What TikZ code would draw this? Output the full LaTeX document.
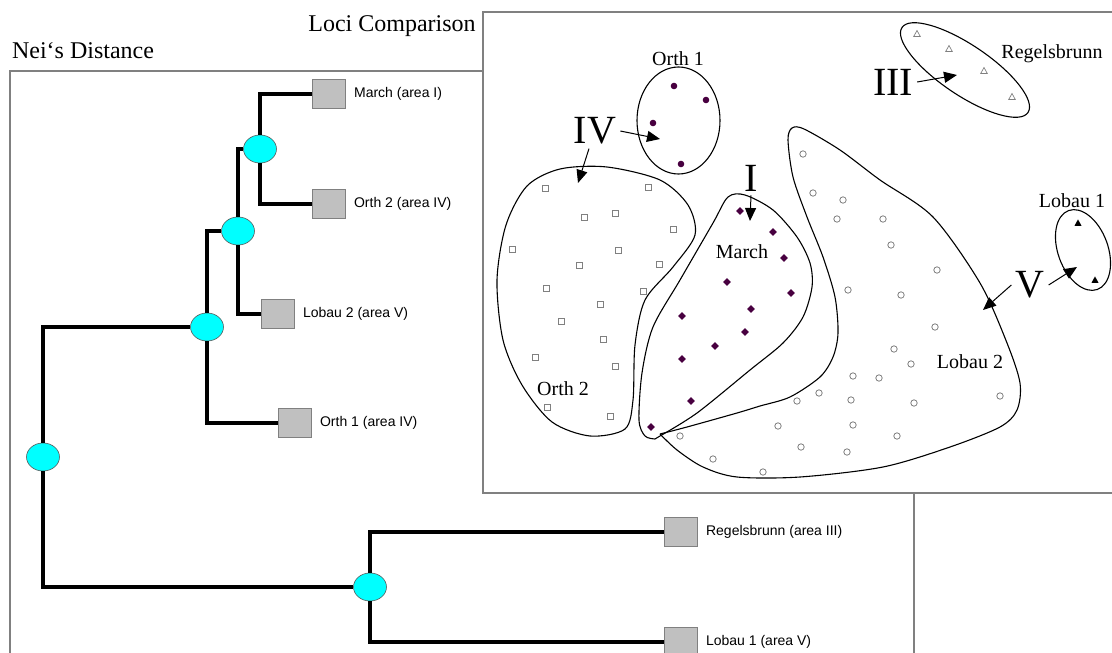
\documentclass[tikz,border=0pt]{standalone}
\usepackage{fontspec}
\setmainfont{Liberation Serif}
\setsansfont{Liberation Sans}
\usetikzlibrary{shapes.geometric,arrows.meta,positioning}
\definecolor{plum}{RGB}{72,0,64}
\definecolor{leafgrey}{RGB}{192,192,192}
\definecolor{framegrey}{RGB}{128,128,128}
\definecolor{knotcyan}{RGB}{0,255,255}
\begin{document}
\begin{tikzpicture}[x=1pt,y=-1pt,>={Triangle[length=13pt,width=11pt]},
    frame/.style={draw=framegrey,line width=1.1pt},
    knot/.style={ellipse,draw=black!65,fill=knotcyan,minimum width=33pt,minimum height=28pt,inner sep=0pt,line width=0.6pt},
    leaf/.style={draw=framegrey,fill=leafgrey,minimum width=33pt,minimum height=29pt,inner sep=0pt,line width=0.8pt},
    branch/.style={line width=4.6pt},
    tag/.style={font=\sffamily\fontsize{14}{16}\selectfont,inner sep=2pt},
    title/.style={font=\fontsize{24}{28}\selectfont,anchor=base,inner sep=0pt},
    group/.style={font=\fontsize{20}{24}\selectfont,anchor=base,inner sep=0pt},
    roman/.style={font=\fontsize{40}{44}\selectfont,inner sep=4pt},
    blob/.style={line width=1.1pt},
    pointer/.style={->,line width=1pt},
    hollow/.style={draw=framegrey,line width=0.8pt}]
    \useasboundingbox (0,0) rectangle (1112,653);
    \node[title] (neiTitle) at (83,58) {Nei‘s Distance};
    \node[title] (lociTitle) at (392,31) {Loci Comparison};
    \draw[frame] (10,653) -- (10,71) -- (483,71);
    \draw[frame] (914,493) -- (914,653);
    \draw[frame] (1112,12) -- (483,12) -- (483,493) -- (1112,493);

    \node[knot] (R) at (43,457) {};
    \node[knot] (A) at (207,327) {};
    \node[knot] (B) at (238,231) {};
    \node[knot] (C) at (260,149) {};
    \node[knot] (D) at (370,587) {};
    \node[leaf] (sqMarch) at (329,94) {};
    \node[leaf] (sqOrthB) at (329,204) {};
    \node[leaf] (sqLobB) at (278,314) {};
    \node[leaf] (sqOrthA) at (295,423) {};
    \node[leaf] (sqReg) at (681,532) {};
    \node[leaf] (sqLobA) at (681,642) {};
    \node[tag,right=6pt of sqMarch] (tMarch) {March (area I)};
    \node[tag,right=6pt of sqOrthB] (tOrthB) {Orth 2 (area IV)};
    \node[tag,right=6pt of sqLobB] (tLobB) {Lobau 2 (area V)};
    \node[tag,right=6pt of sqOrthA] (tOrthA) {Orth 1 (area IV)};
    \node[tag,right=6pt of sqReg] (tReg) {Regelsbrunn (area III)};
    \node[tag,right=6pt of sqLobA] (tLobA) {Lobau 1 (area V)};
    \foreach \a/\b in {R/A,R/D,A/B,A/sqOrthA,B/C,B/sqLobB,C/sqMarch,C/sqOrthB,D/sqReg,D/sqLobA}
        \draw[branch] (\a) |- (\b);

    \draw[blob] plot[smooth cycle] coordinates {(607,167) (560,169) (527,186) (506,225) (497,280) (503,340) (522,385) (552,422) (590,436) (625,429) (633,400) (635,345) (645,300) (673,267) (695,235) (688,205) (660,180)};
    \draw[blob] plot[smooth] coordinates {(660,436) (697,413) (750,370) (783,343) (803,317) (812,287) (810,263) (797,237) (773,210) (745,195) (728,197) (713,223) (680,280) (653,327) (642,373) (639,420) (645,436) (655,439)} -- cycle;
    \draw[blob] plot[smooth] coordinates {(660,434) (687,427) (737,413) (760,406) (790,397) (820,377) (833,357) (838,333) (835,297) (823,257) (807,217) (793,177) (788,140) (792,128) (804,129) (840,150) (880,180) (933,217) (980,283) (1007,343) (1020,383) (1017,410) (1000,427) (950,447) (883,467) (800,477) (737,477) (703,467) (677,450) (660,434)};
    \draw[blob] (678.5,120.5) ellipse [x radius=41.5pt,y radius=53.5pt];
    \draw[blob] (965,70) ellipse [x radius=76pt,y radius=25pt,rotate=-34];
    \draw[blob] (1083,250) ellipse [x radius=25pt,y radius=42pt,rotate=20];

    \foreach \p in {(545,188),(648,187),(584,217),(615,213),(673,229),(512,249),(618,250),(579,265),(659,264),(546,288),(643,291),(600,304),(561,321),(603,339),(535,357),(615,366),(547,407),(610,416)}
        \draw[hollow] \p +(-3,-3) rectangle +(3,3);
    \foreach \p in {(740,211),(773,232),(784,258),(727,282),(791,293),(751,309),(682,316),(745,332),(715,346),(682,359),(691,401),(651,427)}
        \fill[plum] \p +(-3.8,0) -- +(0,-3.8) -- +(3.8,0) -- +(0,3.8) -- cycle;
    \foreach \p in {(674,86),(706,100),(653,123),(681,164)}
        \fill[plum] \p circle[radius=3.3pt];
    \foreach \p in {(803,154),(813,193),(843,200),(837,219),(883,219),(891,245),(937,270),(848,290),(901,295),(935,327),(894,349),(911,364),(853,376),(879,378),(819,393),(797,401),(851,400),(914,403),(1000,396),(778,426),(801,447),(853,425),(897,436),(847,452),(680,436),(713,459),(763,472)}
        \draw[hollow] \p circle[radius=3.2pt];
    \foreach \p in {(917,34),(949,49),(984,71),(1012,97)}
        \draw[hollow,line width=0.7pt] \p +(0,-3.5) -- +(3.3,2.5) -- +(-3.3,2.5) -- cycle;
    \foreach \p in {(1078,223),(1095,280)}
        \fill \p +(0,-3.6) -- +(3.5,2.8) -- +(-3.5,2.8) -- cycle;

    \node[group] (lOrthA) at (678,65) {Orth 1};
    \node[group] (lOrthB) at (563,395) {Orth 2};
    \node[group] (lMarch) at (742,258) {March};
    \node[group] (lLobB) at (970,368) {Lobau 2};
    \node[group] (lLobA) at (1072,207) {Lobau 1};
    \node[group] (lReg) at (1052,58) {Regelsbrunn};
    \node[roman] (IV) at (595,131) {IV};
    \node[roman] (I) at (751,178) {I};
    \node[roman] (III) at (893,82) {III};
    \node[roman] (V) at (1030,285) {V};
    \coordinate (hitOrthA) at (660,139);
    \coordinate (hitOrthB) at (578,183);
    \coordinate (hitMarch) at (750,221);
    \coordinate (hitReg) at (957,75);
    \coordinate (hitLobB) at (983,310);
    \coordinate (hitLobA) at (1077,267);
    \draw[pointer] (IV.east) -- (hitOrthA);
    \draw[pointer] ([xshift=-6pt]IV.south) -- (hitOrthB);
    \draw[pointer] (I.south) -- (hitMarch);
    \draw[pointer] (III.east) -- (hitReg);
    \draw[pointer] (V.west) -- (hitLobB);
    \draw[pointer] (V.east) -- (hitLobA);
\end{tikzpicture}
\end{document}
